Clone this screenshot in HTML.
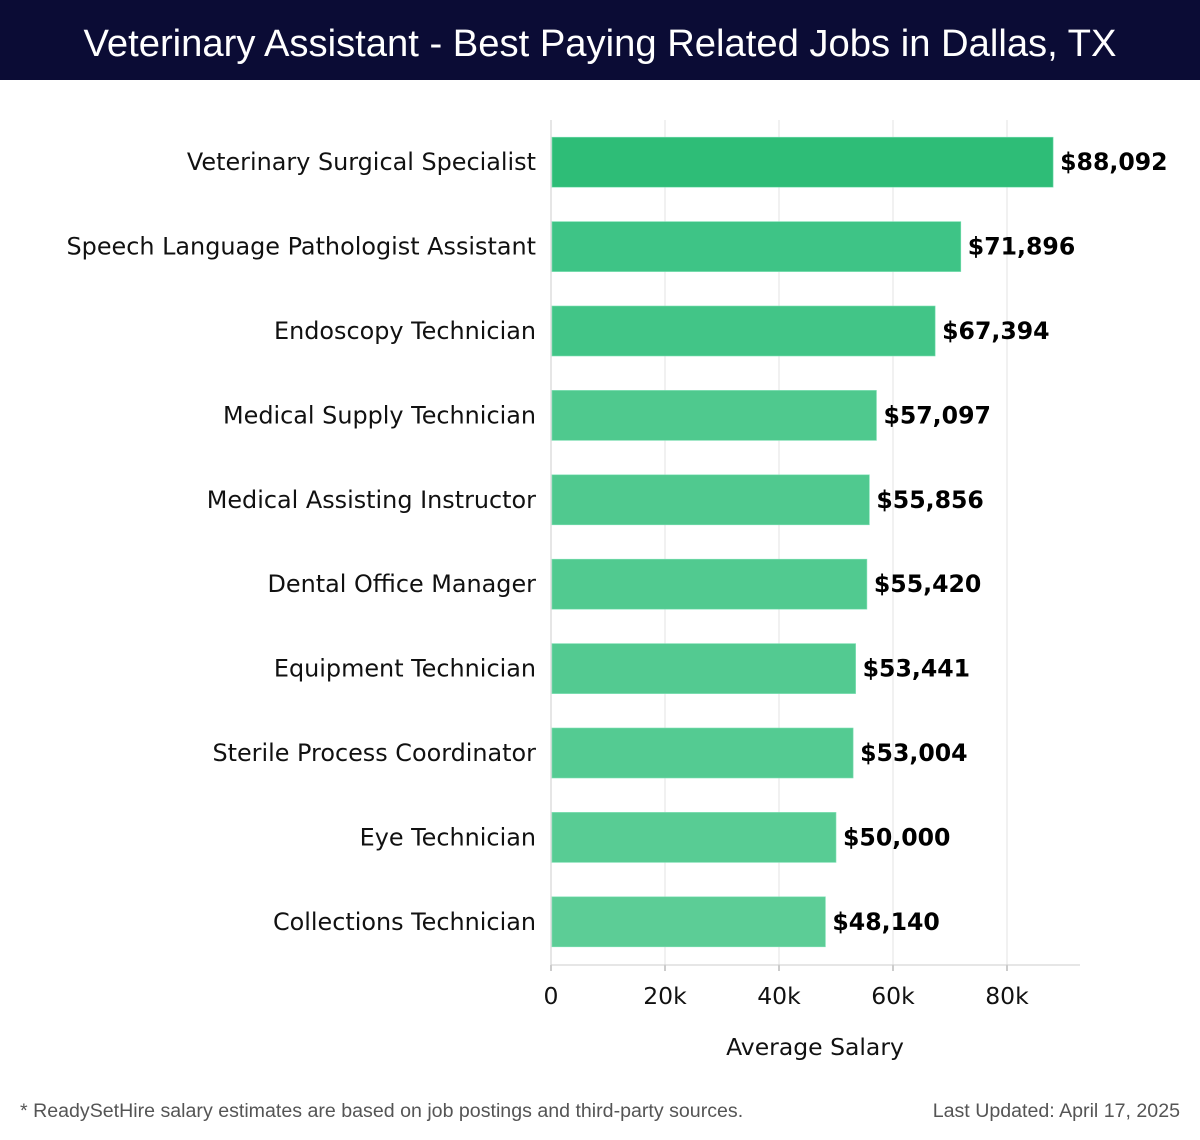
<!DOCTYPE html>
<html><head><meta charset="utf-8"><style>
body{margin:0;background:#fff;width:1200px;height:1140px;overflow:hidden;font-family:"DejaVu Sans","Liberation Sans",sans-serif}
#hdr{position:absolute;left:0;top:0;width:1200px;height:80px;background:#0b0c35;color:#fff;font-size:38.2px;text-align:center;line-height:88px;font-family:"Liberation Sans","DejaVu Sans",sans-serif;font-weight:300}
.foot{position:absolute;top:1100px;font-size:19.6px;color:#555;font-family:"Liberation Sans",sans-serif}
</style></head><body>
<div id="hdr">Veterinary Assistant - Best Paying Related Jobs in Dallas, TX</div>
<svg id="chart" width="1200" height="1140" style="position:absolute;left:0;top:0"></svg>
<div class="foot" style="left:20px">* ReadySetHire salary estimates are based on job postings and third-party sources.</div>
<div class="foot" style="right:20px">Last Updated: April 17, 2025</div>
<script>
const categories=["Veterinary Surgical Specialist","Speech Language Pathologist Assistant","Endoscopy Technician","Medical Supply Technician","Medical Assisting Instructor","Dental Office Manager","Equipment Technician","Sterile Process Coordinator","Eye Technician","Collections Technician"];
const values=[88092,71896,67394,57097,55856,55420,53441,53004,50000,48140];
const ticks=[0,20000,40000,60000,80000];
const tickLabels=["0","20k","40k","60k","80k"];
const colors=["#2ebd77","#3ec486","#42c587","#4fc98e","#50c98f","#51ca90","#53ca91","#54cb92","#58cc94","#5ccd96"];
const NS="http://www.w3.org/2000/svg";
const svg=document.getElementById('chart');
const x0=551,pxPer=114/20000,top0=120,band=84.4;
const X=v=>x0+v*pxPer;
const Yc=i=>top0+band*(i+0.5);
function mk(t,a){const e=document.createElementNS(NS,t);for(const k in a)e.setAttribute(k,a[k]);svg.appendChild(e);return e;}
ticks.forEach((t,i)=>{
 const g=mk('line',{x1:X(t),x2:X(t),y1:120,y2:965,stroke:i==0?'#ccc':'#e3e3e3','stroke-width':1});
 
 
 const tk=mk('line',{x1:X(t),x2:X(t),y1:965,y2:971,stroke:'#999'});
 
 
 const l=mk('text',{x:X(t),y:1004,'text-anchor':'middle','font-size':23.5,fill:'#111'});
 l.textContent=tickLabels[i];
 
 
});
const ax=mk('line',{x1:551,x2:1080,y1:965,y2:965,stroke:'#ccc'});


categories.forEach((c,i)=>{
 const y=Yc(i);
 const r=mk('rect',{x:x0+1,y:y-25,width:X(values[i])-x0-1,height:50,fill:colors[i],stroke:'#7fe0b5','stroke-width':0.6});
 
 
 const l=mk('text',{x:536,y:y+8,'text-anchor':'end','font-size':23.9,fill:'#111'});
 l.textContent=c;
 
 
 const v=mk('text',{x:X(values[i])+7,y:y+8,'font-size':23.6,'font-weight':'bold',fill:'#000'});
 v.textContent='$'+values[i].toLocaleString('en-US');
 
 
});
const at=mk('text',{x:815,y:1055,'text-anchor':'middle','font-size':23.5,fill:'#111'});
at.textContent='Average Salary';


</script>
</body></html>
